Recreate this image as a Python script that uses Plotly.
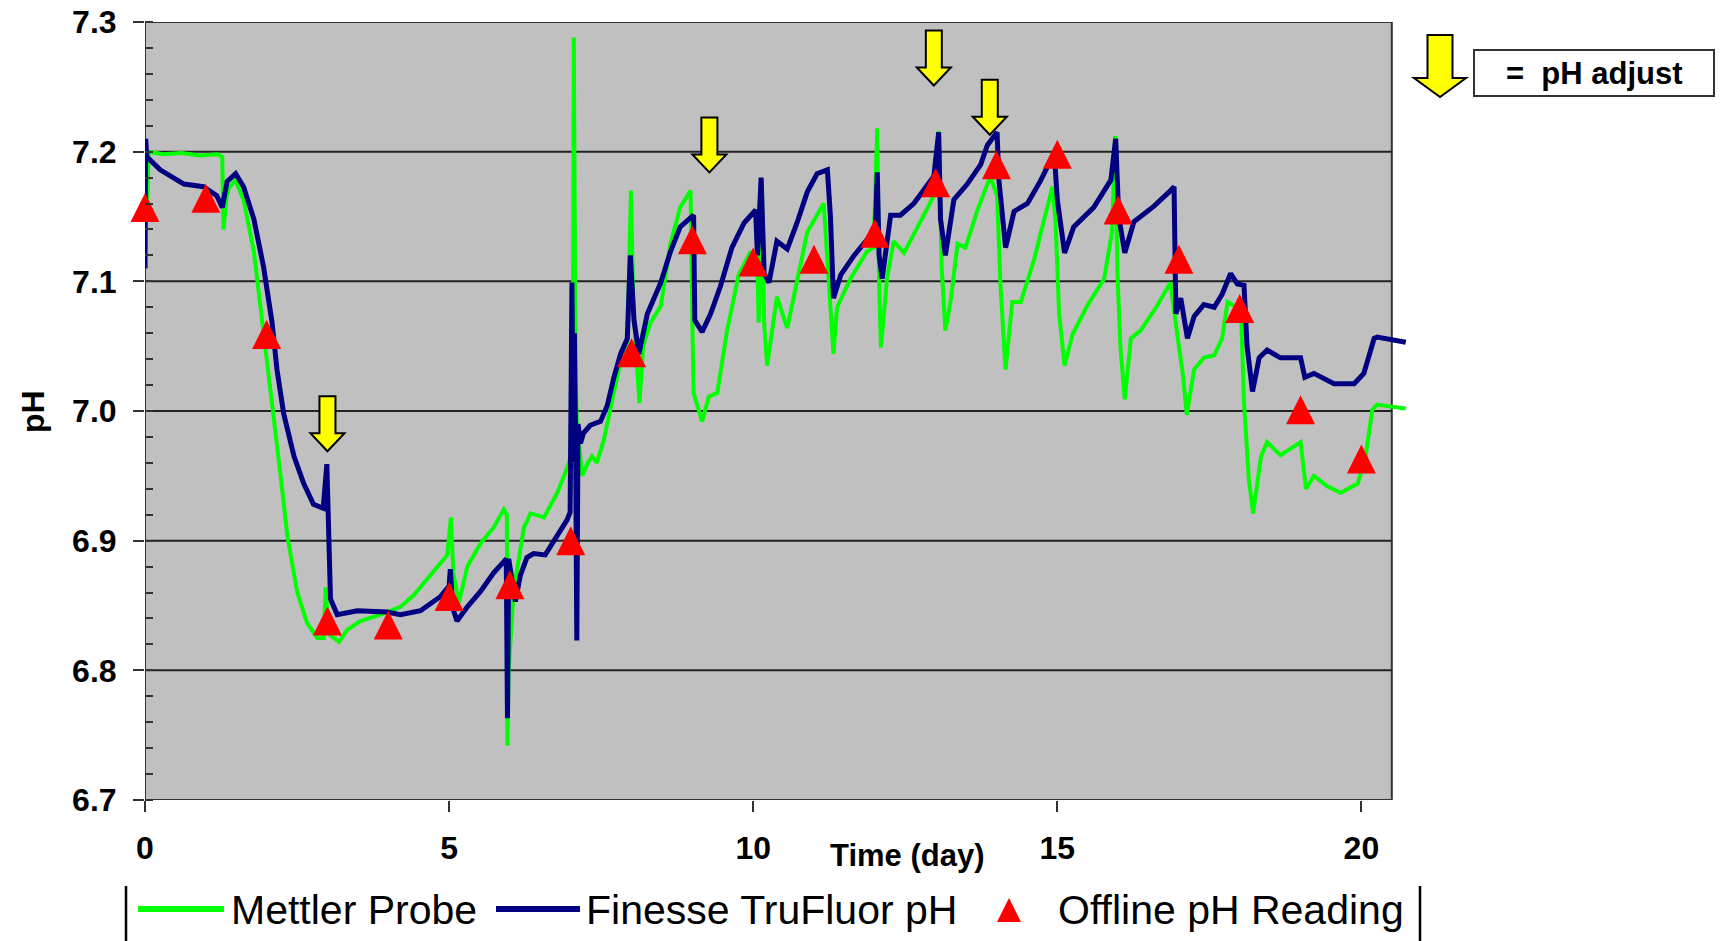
import plotly.graph_objects as go

# ---------------- data ----------------
mettler_day = [0.03, 0.06, 0.30, 0.60, 0.90, 1.20, 1.27, 1.29, 1.34, 1.38, 1.49, 1.62, 1.79, 1.90, 2.01, 2.12,
               2.23, 2.34, 2.50, 2.66, 2.83, 2.94, 2.97, 3.02, 3.19, 3.32, 3.54, 3.87, 4.20, 4.42, 4.75, 4.97,
               5.03, 5.07, 5.16, 5.30, 5.52, 5.73, 5.90, 5.95, 5.96, 5.98, 6.06, 6.23, 6.34, 6.56, 6.78, 6.94,
               7.02, 7.04, 7.05, 7.06, 7.08, 7.10, 7.19, 7.27, 7.35, 7.43, 7.54, 7.65, 7.79, 7.93, 7.99, 8.03,
               8.13, 8.19, 8.31, 8.48, 8.64, 8.80, 8.97, 9.00, 9.02, 9.16, 9.27, 9.41, 9.57, 9.76, 9.96, 10.07,
               10.09, 10.14, 10.18, 10.23, 10.39, 10.56, 10.72, 10.89, 11.16, 11.22, 11.27, 11.32, 11.38, 11.60,
               11.87, 11.98, 12.04, 12.07, 12.10, 12.20, 12.31, 12.48, 12.75, 12.97, 13.05, 13.10, 13.16, 13.25,
               13.36, 13.49, 13.68, 13.90, 14.01, 14.07, 14.15, 14.26, 14.40, 14.62, 14.92, 14.97, 15.03, 15.12,
               15.25, 15.49, 15.77, 15.90, 15.95, 15.99, 16.04, 16.11, 16.21, 16.37, 16.64, 16.86, 16.97, 17.06,
               17.13, 17.25, 17.41, 17.58, 17.71, 17.80, 18.02, 18.07, 18.15, 18.22, 18.35, 18.45, 18.67, 19.00,
               19.09, 19.22, 19.44, 19.66, 19.94, 20.07, 20.18, 20.26, 20.54, 20.73]
mettler_ph = [7.150, 7.200, 7.198, 7.199, 7.197, 7.198, 7.196, 7.140, 7.165, 7.172, 7.178, 7.163, 7.123, 7.081,
              7.038, 6.995, 6.950, 6.904, 6.861, 6.837, 6.825, 6.825, 6.864, 6.828, 6.822, 6.831, 6.838, 6.843,
              6.849, 6.858, 6.876, 6.889, 6.918, 6.875, 6.852, 6.880, 6.898, 6.910, 6.924, 6.920, 6.742, 6.800,
              6.861, 6.910, 6.921, 6.918, 6.937, 6.956, 6.968, 7.100, 7.288, 7.120, 7.030, 6.990, 6.950, 6.959,
              6.965, 6.960, 6.977, 7.001, 7.032, 7.050, 7.170, 7.080, 7.006, 7.050, 7.068, 7.081, 7.129, 7.157,
              7.170, 7.068, 7.014, 6.992, 7.011, 7.014, 7.062, 7.105, 7.123, 7.110, 7.068, 7.178, 7.068, 7.035,
              7.088, 7.064, 7.099, 7.138, 7.160, 7.117, 7.087, 7.044, 7.080, 7.102, 7.123, 7.126, 7.218, 7.100,
              7.049, 7.102, 7.131, 7.122, 7.146, 7.166, 7.216, 7.110, 7.062, 7.086, 7.129, 7.126, 7.154, 7.181,
              7.166, 7.093, 7.032, 7.084, 7.084, 7.117, 7.173, 7.147, 7.075, 7.035, 7.059, 7.081, 7.102, 7.138,
              7.212, 7.105, 7.048, 7.009, 7.056, 7.062, 7.081, 7.099, 7.060, 7.030, 6.997, 7.032, 7.041, 7.043,
              7.056, 7.084, 7.078, 7.007, 6.947, 6.921, 6.965, 6.976, 6.966, 6.976, 6.940, 6.950, 6.942, 6.937,
              6.944, 6.965, 7.001, 7.005, 7.003, 7.002]

finesse_day = [0.00, 0.01, 0.03, 0.25, 0.64, 0.96, 1.18, 1.27, 1.35, 1.49, 1.62, 1.79, 1.95, 2.09, 2.17, 2.28,
               2.45, 2.61, 2.77, 2.93, 2.99, 3.02, 3.05, 3.16, 3.49, 3.98, 4.20, 4.53, 4.86, 5.00, 5.02, 5.06,
               5.13, 5.30, 5.52, 5.73, 5.94, 5.96, 5.98, 6.09, 6.17, 6.28, 6.39, 6.58, 6.78, 6.94, 6.99, 7.02,
               7.04, 7.06, 7.08, 7.10, 7.12, 7.16, 7.21, 7.32, 7.49, 7.60, 7.71, 7.82, 7.93, 7.98, 8.04, 8.12,
               8.26, 8.48, 8.64, 8.80, 9.02, 9.04, 9.16, 9.30, 9.46, 9.65, 9.85, 10.04, 10.07, 10.13, 10.18,
               10.26, 10.39, 10.56, 10.72, 10.89, 11.05, 11.22, 11.27, 11.32, 11.44, 11.66, 11.87, 12.01, 12.04,
               12.07, 12.12, 12.26, 12.42, 12.64, 12.75, 12.97, 13.05, 13.08, 13.16, 13.30, 13.52, 13.74, 13.85,
               14.01, 14.04, 14.15, 14.29, 14.51, 14.73, 14.95, 15.00, 15.12, 15.27, 15.60, 15.88, 15.96, 16.01,
               16.11, 16.26, 16.59, 16.84, 16.92, 16.95, 17.03, 17.14, 17.25, 17.41, 17.58, 17.71, 17.85, 17.96,
               18.07, 18.12, 18.21, 18.32, 18.45, 18.67, 19.00, 19.07, 19.22, 19.55, 19.88, 20.04, 20.21, 20.26,
               20.54, 20.73]
finesse_ph = [7.110, 7.210, 7.196, 7.186, 7.175, 7.173, 7.166, 7.157, 7.177, 7.183, 7.173, 7.148, 7.111, 7.068,
              7.032, 6.998, 6.965, 6.944, 6.928, 6.925, 6.959, 6.904, 6.855, 6.843, 6.846, 6.845, 6.843, 6.846,
              6.857, 6.865, 6.878, 6.848, 6.838, 6.849, 6.861, 6.875, 6.886, 6.763, 6.886, 6.853, 6.873, 6.887,
              6.890, 6.889, 6.904, 6.916, 6.922, 7.099, 6.960, 7.060, 6.975, 6.823, 6.990, 6.975, 6.983, 6.989,
              6.992, 7.004, 7.026, 7.044, 7.056, 7.120, 7.070, 7.044, 7.075, 7.099, 7.123, 7.142, 7.151, 7.070,
              7.061, 7.075, 7.096, 7.126, 7.145, 7.155, 7.120, 7.180, 7.106, 7.099, 7.131, 7.125, 7.145, 7.169,
              7.183, 7.186, 7.150, 7.087, 7.105, 7.120, 7.132, 7.141, 7.184, 7.120, 7.102, 7.151, 7.151, 7.160,
              7.167, 7.181, 7.215, 7.148, 7.120, 7.163, 7.175, 7.190, 7.205, 7.215, 7.178, 7.126, 7.154, 7.160,
              7.178, 7.199, 7.163, 7.122, 7.142, 7.157, 7.178, 7.210, 7.150, 7.122, 7.146, 7.158, 7.169, 7.173,
              7.075, 7.087, 7.056, 7.073, 7.082, 7.080, 7.090, 7.106, 7.098, 7.097, 7.050, 7.015, 7.041, 7.047,
              7.041, 7.041, 7.026, 7.029, 7.021, 7.021, 7.029, 7.056, 7.057, 7.055, 7.053]

offline_day = [0, 1, 2, 3, 4, 5, 6, 7, 8, 9, 10, 11, 12, 13, 14, 15, 16, 17, 18, 19, 20]
offline_ph = [7.157, 7.164, 7.059, 6.838, 6.835, 6.857, 6.866, 6.900, 7.045, 7.132, 7.115, 7.117, 7.137,
              7.176, 7.190, 7.198, 7.155, 7.117, 7.079, 7.001, 6.963]

adjust_day = [3.0, 9.28, 12.97, 13.89]
adjust_tip_ph = [6.969, 7.184, 7.251, 7.213]

y_ticks = [6.7, 6.8, 6.9, 7.0, 7.1, 7.2, 7.3]
x_ticks = [0, 5, 10, 15, 20]
series_names = ["Mettler Probe", "Finesse TruFluor pH", "Offline pH Reading"]

# ---------------- layout geometry ----------------
W, H = 1722, 941
ML, MR, MT, MB = 145, 315, 22, 141
PW, PH = W - ML - MR, H - MT - MB
X_RANGE = [0, 20.75]
X_FRAME = 20.5
Y_RANGE = [6.7, 7.3]

GREEN = "#00FF00"
NAVY = "#000080"
RED = "#FF0000"
YELLOW = "#FFFF00"
FRAME = "#333333"
FONT = "Liberation Sans, Arial, sans-serif"


def px(x):
    """screen x (pixels) -> paper fraction"""
    return (x - ML) / PW


def py(y):
    """screen y (pixels) -> paper fraction"""
    return (MT + PH - y) / PH


MARKER_SIZE = 29
marker_shift = (MARKER_SIZE / 2) * (Y_RANGE[1] - Y_RANGE[0]) / PH

fig = go.Figure()
fig.add_trace(go.Scatter(x=mettler_day, y=mettler_ph, mode="lines", name=series_names[0],
                         line=dict(color=GREEN, width=4), showlegend=False))
fig.add_trace(go.Scatter(x=finesse_day, y=finesse_ph, mode="lines", name=series_names[1],
                         line=dict(color=NAVY, width=5), showlegend=False))
fig.add_trace(go.Scatter(x=offline_day, y=offline_ph, mode="markers", name=series_names[2], yaxis="y2",
                         marker=dict(symbol="arrow-up", size=MARKER_SIZE, color=RED, line=dict(width=0)),
                         showlegend=False, cliponaxis=False))

shapes = []
shapes.append(dict(type="rect", xref="x", yref="y", x0=0, x1=X_FRAME, y0=Y_RANGE[0], y1=Y_RANGE[1],
                   fillcolor="#C0C0C0", line=dict(color=FRAME, width=2), layer="below"))
for yv in y_ticks[1:-1]:
    shapes.append(dict(type="line", xref="x", yref="y", x0=0, x1=X_FRAME, y0=yv, y1=yv,
                       line=dict(color="#222222", width=2), layer="below"))


def arrow_path(hw, hh, sw, total):
    pts = [(0, 0), (-hw, hh), (-sw, hh), (-sw, total), (sw, total), (sw, hh), (hw, hh)]
    return "M " + " L ".join(f"{a},{b}" for a, b in pts) + " Z"


small_arrow = arrow_path(17, 18, 8, 55)
for d, p in zip(adjust_day, adjust_tip_ph):
    shapes.append(dict(type="path", xref="x", yref="y", xsizemode="pixel", ysizemode="pixel",
                       xanchor=d, yanchor=p, path=small_arrow, fillcolor=YELLOW,
                       line=dict(color="black", width=2), layer="above"))

# pH adjust key
shapes.append(dict(type="path", xref="paper", yref="paper", xsizemode="pixel", ysizemode="pixel",
                   xanchor=px(1440), yanchor=py(97), path=arrow_path(26, 19, 12.5, 62),
                   fillcolor=YELLOW, line=dict(color="black", width=2)))
shapes.append(dict(type="rect", xref="paper", yref="paper", x0=px(1474), x1=px(1714), y0=py(96), y1=py(50),
                   fillcolor="white", line=dict(color=FRAME, width=2)))

# bottom legend
shapes.append(dict(type="line", xref="paper", yref="paper", x0=px(126), x1=px(126), y0=py(886), y1=py(945),
                   line=dict(color="black", width=2.5)))
shapes.append(dict(type="line", xref="paper", yref="paper", x0=px(1420), x1=px(1420), y0=py(886), y1=py(945),
                   line=dict(color="black", width=2.5)))
shapes.append(dict(type="line", xref="paper", yref="paper", x0=px(138), x1=px(224), y0=py(909), y1=py(909),
                   line=dict(color=GREEN, width=6)))
shapes.append(dict(type="line", xref="paper", yref="paper", x0=px(496), x1=px(580), y0=py(909), y1=py(909),
                   line=dict(color=NAVY, width=6)))
shapes.append(dict(type="path", xref="paper", yref="paper", xsizemode="pixel", ysizemode="pixel",
                   xanchor=px(1009), yanchor=py(910), path="M -12,-12 L 12,-12 L 0,12 Z",
                   fillcolor=RED, line=dict(width=0)))

annotations = [
    dict(text="<b>pH</b>", xref="paper", yref="paper", x=px(33), y=py(412), textangle=-90, showarrow=False,
         font=dict(family=FONT, size=32, color="black"), xanchor="center", yanchor="middle"),
    dict(text="<b>Time (day)</b>", xref="paper", yref="paper", x=px(907), y=py(855), showarrow=False,
         font=dict(family=FONT, size=31, color="black"), xanchor="center", yanchor="middle"),
    dict(text="<b>=\u00a0\u00a0pH adjust</b>", xref="paper", yref="paper", x=px(1594), y=py(73),
         showarrow=False, font=dict(family=FONT, size=31, color="black"), xanchor="center", yanchor="middle"),
    dict(text=series_names[0], xref="paper", yref="paper", x=px(229), y=py(910), showarrow=False,
         font=dict(family=FONT, size=41, color="black"), xanchor="left", yanchor="middle"),
    dict(text=series_names[1], xref="paper", yref="paper", x=px(584), y=py(910), showarrow=False,
         font=dict(family=FONT, size=41, color="black"), xanchor="left", yanchor="middle"),
    dict(text=series_names[2], xref="paper", yref="paper", x=px(1056), y=py(910), showarrow=False,
         font=dict(family=FONT, size=41, color="black"), xanchor="left", yanchor="middle"),
]

fig.update_layout(
    width=W, height=H,
    margin=dict(l=ML, r=MR, t=MT, b=MB, pad=0),
    paper_bgcolor="white", plot_bgcolor="white",
    showlegend=False,
    font=dict(family=FONT, color="black"),
    xaxis=dict(range=X_RANGE, tickvals=x_ticks, ticks="outside", ticklen=11, tickwidth=2, tickcolor=FRAME,
               showgrid=False, zeroline=False, showline=False, automargin=False, ticklabeloverflow="allow",
               tickfont=dict(family=FONT, size=32, color="black", weight="bold"), ticklabelstandoff=9),
    yaxis=dict(range=Y_RANGE, tickvals=y_ticks, tickformat=".1f", ticks="outside", ticklen=11, tickwidth=2,
               tickcolor=FRAME, showgrid=False, zeroline=False, showline=False, automargin=False,
               ticklabeloverflow="allow",
               tickfont=dict(family=FONT, size=32, color="black", weight="bold"), ticklabelstandoff=10,
               minor=dict(dtick=0.02, tick0=6.7, ticks="inside", ticklen=8, tickwidth=2, tickcolor=FRAME,
                          showgrid=False)),
    yaxis2=dict(range=[Y_RANGE[0] - marker_shift, Y_RANGE[1] - marker_shift], overlaying="y", visible=False),
    shapes=shapes,
    annotations=annotations,
)

# remove the browser's default 8px page margin so the figure fills the window exactly
fig.write_html("out.html", config={"displayModeBar": False},
               post_script="document.body.style.margin='0';document.body.style.overflow='hidden';")
